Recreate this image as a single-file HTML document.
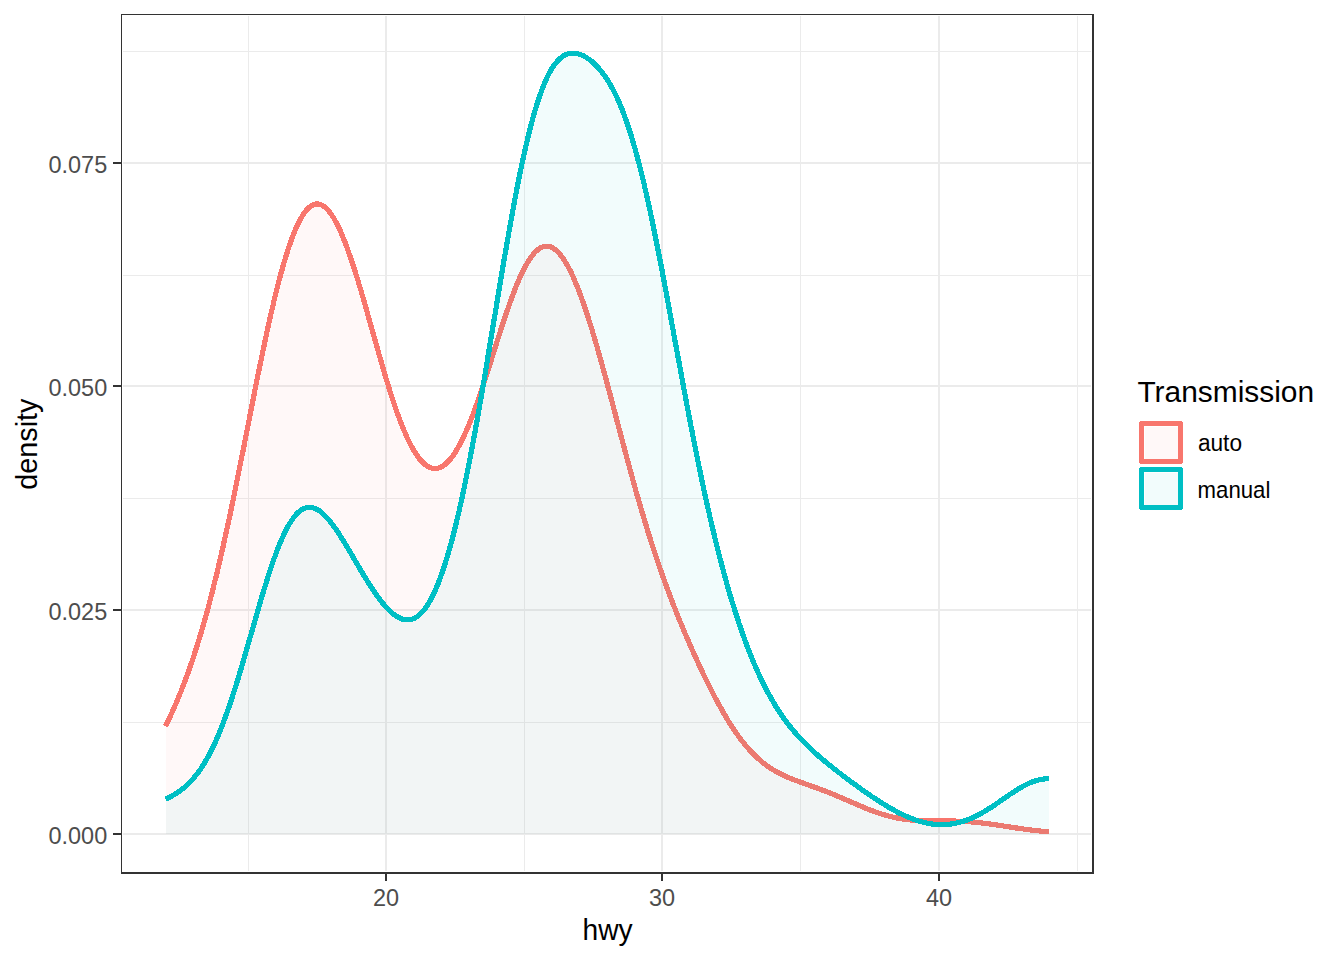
<!DOCTYPE html>
<html><head><meta charset="utf-8"><title>density</title>
<style>
html,body{margin:0;padding:0;background:#fff;}
svg{display:block;}
text{font-family:"Liberation Sans",sans-serif;}
</style></head>
<body>
<svg width="1344" height="960" viewBox="0 0 1344 960">
<rect x="0" y="0" width="1344" height="960" fill="#fff"/>
<g shape-rendering="crispEdges">
<rect x="123" y="51" width="968" height="1" fill="#EBEBEB"/>
<rect x="123" y="275" width="968" height="1" fill="#EBEBEB"/>
<rect x="123" y="498" width="968" height="1" fill="#EBEBEB"/>
<rect x="123" y="722" width="968" height="1" fill="#EBEBEB"/>
<rect x="248" y="16" width="1" height="855" fill="#EBEBEB"/>
<rect x="524" y="16" width="1" height="855" fill="#EBEBEB"/>
<rect x="800" y="16" width="1" height="855" fill="#EBEBEB"/>
<rect x="1077" y="16" width="1" height="855" fill="#EBEBEB"/>
<rect x="123" y="162" width="968" height="2" fill="#EBEBEB"/>
<rect x="123" y="385" width="968" height="2" fill="#EBEBEB"/>
<rect x="123" y="609" width="968" height="2" fill="#EBEBEB"/>
<rect x="123" y="833" width="968" height="2" fill="#EBEBEB"/>
<rect x="385" y="16" width="2" height="855" fill="#EBEBEB"/>
<rect x="661" y="16" width="2" height="855" fill="#EBEBEB"/>
<rect x="938" y="16" width="2" height="855" fill="#EBEBEB"/>
<path d="M165.5,726.2 L167.7,721.6 L169.9,716.9 L172.1,712.1 L174.4,707.1 L176.6,702.0 L178.8,696.7 L181.0,691.3 L183.2,685.6 L185.4,679.8 L187.6,673.8 L189.9,667.6 L192.1,661.1 L194.3,654.5 L196.5,647.6 L198.7,640.5 L200.9,633.2 L203.1,625.6 L205.4,617.8 L207.6,609.8 L209.8,601.5 L212.0,592.9 L214.2,584.1 L216.4,575.1 L218.6,565.8 L220.9,556.3 L223.1,546.5 L225.3,536.6 L227.5,526.4 L229.7,516.0 L231.9,505.5 L234.1,494.8 L236.4,483.9 L238.6,473.0 L240.8,461.9 L243.0,450.7 L245.2,439.5 L247.4,428.3 L249.6,417.0 L251.9,405.8 L254.1,394.6 L256.3,383.5 L258.5,372.5 L260.7,361.6 L262.9,350.9 L265.1,340.4 L267.4,330.2 L269.6,320.1 L271.8,310.4 L274.0,300.9 L276.2,291.8 L278.4,283.0 L280.6,274.6 L282.9,266.6 L285.1,259.0 L287.3,251.8 L289.5,245.1 L291.7,238.9 L293.9,233.1 L296.1,227.9 L298.4,223.1 L300.6,218.9 L302.8,215.1 L305.0,212.0 L307.2,209.3 L309.4,207.2 L311.6,205.6 L313.9,204.5 L316.1,204.0 L318.3,204.0 L320.5,204.5 L322.7,205.6 L324.9,207.1 L327.1,209.2 L329.4,211.7 L331.6,214.7 L333.8,218.2 L336.0,222.1 L338.2,226.5 L340.4,231.2 L342.6,236.3 L344.9,241.8 L347.1,247.7 L349.3,253.9 L351.5,260.3 L353.7,267.1 L355.9,274.1 L358.1,281.3 L360.4,288.7 L362.6,296.2 L364.8,303.9 L367.0,311.6 L369.2,319.5 L371.4,327.4 L373.6,335.3 L375.9,343.1 L378.1,351.0 L380.3,358.7 L382.5,366.4 L384.7,373.9 L386.9,381.3 L389.1,388.5 L391.4,395.4 L393.6,402.2 L395.8,408.7 L398.0,415.0 L400.2,420.9 L402.4,426.6 L404.6,431.9 L406.9,437.0 L409.1,441.7 L411.3,446.0 L413.5,450.0 L415.7,453.6 L417.9,456.8 L420.1,459.6 L422.4,462.1 L424.6,464.1 L426.8,465.8 L429.0,467.1 L431.2,467.9 L433.4,468.4 L435.6,468.5 L437.9,468.2 L440.1,467.5 L442.3,466.4 L444.5,464.9 L446.7,463.0 L448.9,460.7 L451.1,458.1 L453.4,455.1 L455.6,451.8 L457.8,448.1 L460.0,444.0 L462.2,439.7 L464.4,435.0 L466.6,430.0 L468.9,424.8 L471.1,419.2 L473.3,413.4 L475.5,407.4 L477.7,401.2 L479.9,394.8 L482.1,388.2 L484.4,381.5 L486.6,374.6 L488.8,367.7 L491.0,360.7 L493.2,353.7 L495.4,346.7 L497.6,339.7 L499.9,332.8 L502.1,325.9 L504.3,319.2 L506.5,312.6 L508.7,306.2 L510.9,300.0 L513.1,294.0 L515.4,288.3 L517.6,282.8 L519.8,277.7 L522.0,272.9 L524.2,268.4 L526.4,264.3 L528.6,260.6 L530.9,257.3 L533.1,254.4 L535.3,251.9 L537.5,249.9 L539.7,248.3 L541.9,247.1 L544.1,246.4 L546.4,246.1 L548.6,246.3 L550.8,246.9 L553.0,248.0 L555.2,249.5 L557.4,251.5 L559.6,253.9 L561.9,256.6 L564.1,259.8 L566.3,263.4 L568.5,267.4 L570.7,271.8 L572.9,276.5 L575.1,281.6 L577.4,287.0 L579.6,292.7 L581.8,298.7 L584.0,305.0 L586.2,311.5 L588.4,318.4 L590.6,325.4 L592.9,332.7 L595.1,340.1 L597.3,347.8 L599.5,355.6 L601.7,363.5 L603.9,371.6 L606.1,379.8 L608.4,388.0 L610.6,396.3 L612.8,404.7 L615.0,413.1 L617.2,421.5 L619.4,429.9 L621.6,438.3 L623.9,446.6 L626.1,454.9 L628.3,463.1 L630.5,471.3 L632.7,479.3 L634.9,487.2 L637.1,495.1 L639.4,502.8 L641.6,510.4 L643.8,517.9 L646.0,525.2 L648.2,532.4 L650.4,539.4 L652.6,546.3 L654.9,553.1 L657.1,559.7 L659.3,566.2 L661.5,572.6 L663.7,578.8 L665.9,584.9 L668.1,590.9 L670.4,596.8 L672.6,602.6 L674.8,608.3 L677.0,613.8 L679.2,619.3 L681.4,624.7 L683.6,630.0 L685.9,635.3 L688.1,640.4 L690.3,645.5 L692.5,650.5 L694.7,655.4 L696.9,660.3 L699.1,665.1 L701.4,669.8 L703.6,674.5 L705.8,679.1 L708.0,683.6 L710.2,688.0 L712.4,692.4 L714.6,696.6 L716.9,700.8 L719.1,704.9 L721.3,708.9 L723.5,712.8 L725.7,716.6 L727.9,720.2 L730.1,723.8 L732.4,727.3 L734.6,730.6 L736.8,733.8 L739.0,736.9 L741.2,739.9 L743.4,742.7 L745.6,745.5 L747.9,748.1 L750.1,750.5 L752.3,752.9 L754.5,755.2 L756.7,757.3 L758.9,759.3 L761.1,761.2 L763.4,763.0 L765.6,764.7 L767.8,766.3 L770.0,767.8 L772.2,769.2 L774.4,770.6 L776.6,771.8 L778.9,773.0 L781.1,774.2 L783.3,775.2 L785.5,776.3 L787.7,777.2 L789.9,778.2 L792.1,779.1 L794.4,779.9 L796.6,780.8 L798.8,781.6 L801.0,782.4 L803.2,783.2 L805.4,784.0 L807.6,784.7 L809.9,785.5 L812.1,786.3 L814.3,787.1 L816.5,787.9 L818.7,788.7 L820.9,789.5 L823.1,790.4 L825.4,791.2 L827.6,792.1 L829.8,792.9 L832.0,793.8 L834.2,794.7 L836.4,795.7 L838.6,796.6 L840.9,797.5 L843.1,798.5 L845.3,799.4 L847.5,800.4 L849.7,801.4 L851.9,802.3 L854.1,803.3 L856.4,804.3 L858.6,805.2 L860.8,806.2 L863.0,807.1 L865.2,808.0 L867.4,808.9 L869.6,809.8 L871.9,810.6 L874.1,811.5 L876.3,812.3 L878.5,813.0 L880.7,813.7 L882.9,814.4 L885.1,815.1 L887.4,815.7 L889.6,816.3 L891.8,816.9 L894.0,817.4 L896.2,817.8 L898.4,818.3 L900.6,818.6 L902.9,819.0 L905.1,819.3 L907.3,819.6 L909.5,819.8 L911.7,820.0 L913.9,820.2 L916.1,820.4 L918.4,820.5 L920.6,820.6 L922.8,820.7 L925.0,820.8 L927.2,820.8 L929.4,820.8 L931.6,820.9 L933.9,820.9 L936.1,820.9 L938.3,820.9 L940.5,820.9 L942.7,820.9 L944.9,820.9 L947.1,820.9 L949.4,821.0 L951.6,821.0 L953.8,821.0 L956.0,821.1 L958.2,821.2 L960.4,821.3 L962.6,821.4 L964.9,821.5 L967.1,821.6 L969.3,821.8 L971.5,822.0 L973.7,822.1 L975.9,822.4 L978.1,822.6 L980.4,822.8 L982.6,823.1 L984.8,823.3 L987.0,823.6 L989.2,823.9 L991.4,824.2 L993.6,824.5 L995.9,824.9 L998.1,825.2 L1000.3,825.5 L1002.5,825.9 L1004.7,826.2 L1006.9,826.5 L1009.1,826.9 L1011.4,827.2 L1013.6,827.6 L1015.8,827.9 L1018.0,828.2 L1020.2,828.5 L1022.4,828.9 L1024.6,829.2 L1026.9,829.5 L1029.1,829.7 L1031.3,830.0 L1033.5,830.3 L1035.7,830.6 L1037.9,830.8 L1040.1,831.0 L1042.4,831.3 L1044.6,831.5 L1046.8,831.7 L1049.0,831.9 L1049.0,834.0 L165.5,834.0Z" fill="#F8766D" fill-opacity="0.05" stroke="none"/>
<path d="M167.8,727.3 L170.1,722.8 L172.3,718.0 L174.5,713.2 L176.7,708.2 L179.0,703.0 L181.2,697.7 L183.4,692.2 L185.6,686.6 L187.9,680.7 L190.1,674.7 L192.3,668.4 L194.5,662.0 L196.8,655.3 L199.0,648.4 L201.2,641.3 L203.4,634.0 L205.6,626.4 L207.9,618.5 L210.1,610.5 L212.3,602.1 L214.5,593.6 L216.7,584.7 L219.0,575.7 L221.2,566.4 L223.4,556.9 L225.6,547.1 L227.8,537.1 L230.0,527.0 L232.3,516.6 L234.5,506.0 L236.7,495.3 L238.9,484.5 L241.1,473.5 L243.3,462.4 L245.6,451.2 L247.8,440.0 L250.0,428.8 L252.2,417.5 L254.4,406.3 L256.6,395.1 L258.8,384.0 L261.0,373.0 L263.3,362.2 L265.5,351.5 L267.7,341.0 L269.9,330.7 L272.1,320.7 L274.3,310.9 L276.5,301.5 L278.7,292.4 L280.9,283.6 L283.2,275.3 L285.4,267.3 L287.6,259.7 L289.8,252.6 L292.0,246.0 L294.2,239.8 L296.3,234.1 L298.5,228.9 L300.7,224.3 L302.8,220.1 L305.0,216.5 L307.1,213.5 L309.1,211.1 L311.1,209.2 L313.0,207.8 L314.7,207.0 L316.4,206.6 L318.0,206.6 L319.6,207.0 L321.4,207.8 L323.3,209.1 L325.3,211.0 L327.3,213.3 L329.4,216.2 L331.6,219.5 L333.7,223.3 L335.9,227.6 L338.1,232.3 L340.2,237.3 L342.4,242.8 L344.6,248.6 L346.8,254.7 L349.0,261.2 L351.2,267.9 L353.4,274.8 L355.7,282.0 L357.9,289.4 L360.1,296.9 L362.3,304.6 L364.5,312.4 L366.7,320.2 L368.9,328.1 L371.1,336.0 L373.4,343.9 L375.6,351.7 L377.8,359.5 L380.0,367.1 L382.2,374.7 L384.4,382.0 L386.7,389.2 L388.9,396.2 L391.1,403.0 L393.3,409.6 L395.6,415.9 L397.8,421.9 L400.0,427.6 L402.3,433.0 L404.5,438.1 L406.7,442.8 L409.0,447.2 L411.3,451.3 L413.5,455.0 L415.8,458.3 L418.1,461.3 L420.5,463.9 L422.9,466.1 L425.3,468.0 L427.9,469.4 L430.5,470.4 L433.1,471.0 L435.8,471.1 L438.4,470.7 L441.1,469.9 L443.6,468.6 L446.1,466.9 L448.5,464.9 L450.9,462.5 L453.2,459.7 L455.5,456.6 L457.8,453.2 L460.0,449.4 L462.3,445.3 L464.5,440.8 L466.8,436.1 L469.0,431.1 L471.3,425.7 L473.5,420.2 L475.7,414.4 L477.9,408.3 L480.2,402.1 L482.4,395.6 L484.6,389.0 L486.8,382.3 L489.0,375.4 L491.3,368.5 L493.5,361.5 L495.7,354.5 L497.9,347.5 L500.1,340.5 L502.3,333.6 L504.5,326.7 L506.8,320.0 L509.0,313.4 L511.2,307.1 L513.4,300.9 L515.6,294.9 L517.8,289.2 L520.0,283.8 L522.2,278.8 L524.3,274.0 L526.5,269.6 L528.7,265.6 L530.8,262.0 L533.0,258.8 L535.1,256.1 L537.1,253.8 L539.2,251.9 L541.1,250.5 L542.9,249.5 L544.7,248.9 L546.4,248.7 L548.1,248.9 L549.9,249.4 L551.7,250.3 L553.6,251.6 L555.6,253.3 L557.7,255.5 L559.8,258.2 L561.9,261.3 L564.0,264.7 L566.2,268.6 L568.4,272.9 L570.6,277.6 L572.7,282.6 L574.9,287.9 L577.1,293.6 L579.3,299.6 L581.5,305.8 L583.7,312.4 L586.0,319.2 L588.2,326.2 L590.4,333.4 L592.6,340.9 L594.8,348.5 L597.0,356.3 L599.2,364.2 L601.4,372.3 L603.6,380.4 L605.8,388.7 L608.1,397.0 L610.3,405.4 L612.5,413.8 L614.7,422.2 L616.9,430.6 L619.1,438.9 L621.3,447.3 L623.6,455.6 L625.8,463.8 L628.0,471.9 L630.2,480.0 L632.4,487.9 L634.6,495.8 L636.9,503.5 L639.1,511.1 L641.3,518.6 L643.5,525.9 L645.7,533.1 L648.0,540.2 L650.2,547.1 L652.4,553.9 L654.6,560.6 L656.8,567.1 L659.0,573.5 L661.3,579.7 L663.5,585.8 L665.7,591.9 L667.9,597.8 L670.1,603.5 L672.4,609.2 L674.6,614.8 L676.8,620.3 L679.0,625.7 L681.2,631.0 L683.5,636.3 L685.7,641.4 L687.9,646.5 L690.1,651.6 L692.3,656.5 L694.6,661.4 L696.8,666.2 L699.0,670.9 L701.2,675.6 L703.4,680.2 L705.7,684.7 L707.9,689.2 L710.1,693.6 L712.3,697.8 L714.6,702.0 L716.8,706.1 L719.0,710.2 L721.2,714.1 L723.5,717.9 L725.7,721.6 L727.9,725.2 L730.2,728.7 L732.4,732.0 L734.7,735.3 L736.9,738.4 L739.1,741.4 L741.4,744.3 L743.6,747.1 L745.9,749.8 L748.2,752.3 L750.4,754.7 L752.7,757.0 L754.9,759.2 L757.2,761.2 L759.5,763.2 L761.7,765.0 L764.0,766.8 L766.3,768.4 L768.6,770.0 L770.8,771.4 L773.1,772.8 L775.4,774.1 L777.6,775.3 L779.9,776.5 L782.2,777.6 L784.4,778.6 L786.7,779.6 L788.9,780.6 L791.2,781.5 L793.4,782.4 L795.7,783.2 L797.9,784.0 L800.1,784.8 L802.3,785.6 L804.6,786.4 L806.8,787.2 L809.0,788.0 L811.2,788.8 L813.4,789.5 L815.6,790.3 L817.8,791.1 L820.0,792.0 L822.2,792.8 L824.4,793.6 L826.6,794.5 L828.8,795.4 L831.0,796.2 L833.2,797.1 L835.4,798.1 L837.6,799.0 L839.8,799.9 L842.0,800.9 L844.2,801.8 L846.5,802.8 L848.7,803.8 L850.9,804.7 L853.1,805.7 L855.3,806.7 L857.5,807.6 L859.8,808.6 L862.0,809.5 L864.2,810.4 L866.5,811.3 L868.7,812.2 L870.9,813.1 L873.2,813.9 L875.4,814.7 L877.7,815.5 L879.9,816.2 L882.2,816.9 L884.4,817.6 L886.7,818.2 L888.9,818.8 L891.2,819.4 L893.4,819.9 L895.7,820.4 L898.0,820.8 L900.2,821.2 L902.5,821.6 L904.7,821.9 L907.0,822.2 L909.2,822.4 L911.5,822.6 L913.7,822.8 L916.0,823.0 L918.2,823.1 L920.5,823.2 L922.7,823.3 L924.9,823.4 L927.2,823.4 L929.4,823.4 L931.6,823.5 L933.8,823.5 L936.1,823.5 L938.3,823.5 L940.5,823.5 L942.7,823.5 L944.9,823.5 L947.1,823.5 L949.3,823.6 L951.5,823.6 L953.7,823.6 L955.9,823.7 L958.1,823.8 L960.3,823.9 L962.5,824.0 L964.7,824.1 L966.9,824.2 L969.1,824.4 L971.3,824.5 L973.5,824.7 L975.7,824.9 L977.9,825.2 L980.1,825.4 L982.3,825.7 L984.5,825.9 L986.7,826.2 L988.9,826.5 L991.1,826.8 L993.3,827.1 L995.5,827.4 L997.7,827.8 L999.9,828.1 L1002.1,828.4 L1004.3,828.8 L1006.5,829.1 L1008.7,829.5 L1011.0,829.8 L1013.2,830.1 L1015.4,830.5 L1017.6,830.8 L1019.8,831.1 L1022.1,831.4 L1024.3,831.7 L1026.5,832.0 L1028.7,832.3 L1031.0,832.6 L1033.2,832.9 L1035.4,833.1 L1037.6,833.4 L1039.9,833.6 L1042.1,833.8 L1044.3,834.1 L1046.6,834.3 L1048.8,834.4 L1049.2,829.3 L1047.0,829.1 L1044.8,828.9 L1042.6,828.7 L1040.4,828.4 L1038.2,828.2 L1036.0,828.0 L1033.8,827.7 L1031.6,827.4 L1029.4,827.2 L1027.2,826.9 L1025.0,826.6 L1022.8,826.3 L1020.6,826.0 L1018.4,825.6 L1016.2,825.3 L1014.0,825.0 L1011.7,824.7 L1009.5,824.3 L1007.3,824.0 L1005.1,823.6 L1002.9,823.3 L1000.7,823.0 L998.5,822.6 L996.2,822.3 L994.0,822.0 L991.8,821.7 L989.6,821.3 L987.3,821.0 L985.1,820.8 L982.9,820.5 L980.6,820.2 L978.4,820.0 L976.2,819.8 L973.9,819.6 L971.7,819.4 L969.5,819.2 L967.2,819.0 L965.0,818.9 L962.8,818.8 L960.5,818.7 L958.3,818.6 L956.1,818.5 L953.8,818.4 L951.6,818.4 L949.4,818.4 L947.2,818.3 L944.9,818.3 L942.7,818.3 L940.5,818.3 L938.3,818.3 L936.1,818.3 L933.9,818.3 L931.7,818.3 L929.5,818.2 L927.3,818.2 L925.1,818.2 L922.9,818.1 L920.7,818.0 L918.5,817.9 L916.3,817.8 L914.1,817.6 L911.9,817.5 L909.8,817.2 L907.6,817.0 L905.4,816.7 L903.2,816.4 L901.1,816.1 L898.9,815.7 L896.7,815.3 L894.6,814.8 L892.4,814.3 L890.2,813.8 L888.0,813.2 L885.9,812.6 L883.7,812.0 L881.5,811.3 L879.3,810.6 L877.1,809.8 L875.0,809.0 L872.8,808.2 L870.6,807.4 L868.4,806.5 L866.2,805.6 L864.0,804.7 L861.8,803.8 L859.6,802.8 L857.4,801.9 L855.2,800.9 L853.0,800.0 L850.8,799.0 L848.5,798.0 L846.3,797.1 L844.1,796.1 L841.9,795.1 L839.7,794.2 L837.4,793.3 L835.2,792.3 L833.0,791.4 L830.7,790.5 L828.5,789.6 L826.3,788.8 L824.1,787.9 L821.8,787.1 L819.6,786.3 L817.4,785.4 L815.2,784.6 L812.9,783.9 L810.7,783.1 L808.5,782.3 L806.3,781.5 L804.1,780.7 L801.9,779.9 L799.7,779.1 L797.5,778.3 L795.3,777.5 L793.1,776.6 L790.9,775.8 L788.7,774.8 L786.6,773.9 L784.4,772.9 L782.2,771.8 L780.1,770.7 L777.9,769.6 L775.7,768.3 L773.6,767.0 L771.4,765.6 L769.3,764.2 L767.1,762.6 L765.0,761.0 L762.8,759.2 L760.7,757.3 L758.5,755.4 L756.3,753.3 L754.2,751.1 L752.0,748.8 L749.8,746.4 L747.6,743.8 L745.5,741.1 L743.3,738.3 L741.1,735.4 L738.9,732.3 L736.7,729.1 L734.5,725.8 L732.3,722.4 L730.1,718.9 L728.0,715.2 L725.8,711.5 L723.6,707.6 L721.4,703.6 L719.1,699.6 L716.9,695.4 L714.7,691.2 L712.5,686.8 L710.3,682.4 L708.1,677.9 L705.9,673.4 L703.7,668.7 L701.5,664.0 L699.3,659.2 L697.1,654.4 L694.9,649.4 L692.7,644.4 L690.5,639.4 L688.2,634.2 L686.0,629.0 L683.8,623.7 L681.6,618.3 L679.4,612.9 L677.2,607.3 L675.0,601.7 L672.8,595.9 L670.6,590.0 L668.4,584.1 L666.2,578.0 L664.0,571.7 L661.7,565.4 L659.5,558.9 L657.3,552.3 L655.1,545.5 L652.9,538.6 L650.7,531.6 L648.5,524.4 L646.3,517.1 L644.1,509.7 L641.9,502.1 L639.6,494.4 L637.4,486.5 L635.2,478.6 L633.0,470.6 L630.8,462.4 L628.6,454.2 L626.4,445.9 L624.2,437.6 L621.9,429.2 L619.7,420.8 L617.5,412.4 L615.3,404.0 L613.1,395.7 L610.9,387.3 L608.7,379.1 L606.4,370.9 L604.2,362.8 L602.0,354.9 L599.8,347.1 L597.6,339.4 L595.3,331.9 L593.1,324.6 L590.9,317.6 L588.7,310.7 L586.5,304.1 L584.2,297.8 L582.0,291.7 L579.8,286.0 L577.5,280.5 L575.3,275.4 L573.1,270.6 L570.8,266.2 L568.5,262.1 L566.2,258.4 L563.9,255.1 L561.6,252.2 L559.2,249.6 L556.8,247.5 L554.3,245.8 L551.7,244.5 L549.0,243.8 L546.3,243.5 L543.6,243.9 L540.9,244.7 L538.3,246.1 L535.8,247.9 L533.4,250.1 L531.1,252.8 L528.7,255.8 L526.4,259.2 L524.2,263.1 L521.9,267.2 L519.7,271.8 L517.4,276.6 L515.2,281.8 L512.9,287.3 L510.7,293.1 L508.5,299.1 L506.3,305.3 L504.0,311.8 L501.8,318.4 L499.6,325.1 L497.4,332.0 L495.2,338.9 L492.9,345.9 L490.7,352.9 L488.5,360.0 L486.3,366.9 L484.1,373.8 L481.9,380.7 L479.7,387.4 L477.5,393.9 L475.3,400.3 L473.1,406.5 L470.9,412.5 L468.7,418.3 L466.5,423.8 L464.3,429.0 L462.1,433.9 L459.9,438.5 L457.7,442.8 L455.5,446.8 L453.4,450.4 L451.2,453.6 L449.1,456.5 L447.0,459.0 L444.9,461.1 L442.9,462.8 L441.0,464.1 L439.1,465.1 L437.3,465.6 L435.5,465.9 L433.8,465.8 L432.0,465.5 L430.1,464.7 L428.2,463.6 L426.2,462.1 L424.2,460.2 L422.1,457.9 L420.0,455.2 L417.9,452.1 L415.7,448.6 L413.6,444.8 L411.4,440.5 L409.2,435.9 L407.0,430.9 L404.8,425.6 L402.6,420.0 L400.4,414.1 L398.2,407.9 L396.0,401.4 L393.8,394.7 L391.6,387.7 L389.4,380.5 L387.2,373.2 L385.0,365.7 L382.8,358.0 L380.6,350.3 L378.4,342.4 L376.1,334.6 L373.9,326.7 L371.7,318.8 L369.5,310.9 L367.3,303.2 L365.1,295.5 L362.8,287.9 L360.6,280.5 L358.4,273.3 L356.2,266.3 L354.0,259.5 L351.7,253.0 L349.5,246.8 L347.3,240.9 L345.0,235.3 L342.8,230.1 L340.6,225.3 L338.3,220.9 L336.0,216.9 L333.7,213.3 L331.4,210.1 L329.0,207.4 L326.6,205.1 L324.0,203.3 L321.4,202.1 L318.6,201.4 L315.8,201.4 L313.0,202.1 L310.3,203.3 L307.8,205.2 L305.3,207.5 L302.9,210.4 L300.6,213.7 L298.3,217.6 L296.0,222.0 L293.8,226.8 L291.5,232.2 L289.3,238.0 L287.0,244.3 L284.8,251.0 L282.6,258.2 L280.4,265.9 L278.1,273.9 L275.9,282.3 L273.7,291.1 L271.5,300.3 L269.3,309.8 L267.0,319.6 L264.8,329.6 L262.6,339.9 L260.4,350.4 L258.2,361.1 L256.0,372.0 L253.7,383.0 L251.5,394.1 L249.3,405.3 L247.1,416.5 L244.9,427.8 L242.7,439.0 L240.4,450.2 L238.2,461.4 L236.0,472.5 L233.8,483.4 L231.6,494.3 L229.4,505.0 L227.2,515.5 L225.0,525.9 L222.7,536.0 L220.5,546.0 L218.3,555.7 L216.1,565.2 L213.9,574.5 L211.7,583.5 L209.5,592.3 L207.3,600.8 L205.1,609.1 L202.9,617.1 L200.6,624.9 L198.4,632.5 L196.2,639.8 L194.0,646.8 L191.8,653.7 L189.6,660.3 L187.4,666.7 L185.2,672.9 L183.0,678.9 L180.8,684.7 L178.6,690.3 L176.4,695.7 L174.2,701.0 L172.0,706.1 L169.8,711.0 L167.6,715.8 L165.4,720.5 L163.2,725.0Z" fill="#F8766D" stroke="none"/>
<path d="M165.5,799.2 L167.7,798.2 L169.9,797.0 L172.1,795.8 L174.4,794.5 L176.6,793.1 L178.8,791.6 L181.0,790.0 L183.2,788.3 L185.4,786.4 L187.6,784.4 L189.9,782.3 L192.1,779.9 L194.3,777.4 L196.5,774.6 L198.7,771.7 L200.9,768.5 L203.1,765.2 L205.4,761.5 L207.6,757.6 L209.8,753.5 L212.0,749.1 L214.2,744.5 L216.4,739.6 L218.6,734.4 L220.9,729.0 L223.1,723.3 L225.3,717.3 L227.5,711.1 L229.7,704.7 L231.9,698.1 L234.1,691.2 L236.4,684.2 L238.6,677.0 L240.8,669.6 L243.0,662.1 L245.2,654.5 L247.4,646.8 L249.6,639.1 L251.9,631.3 L254.1,623.6 L256.3,615.9 L258.5,608.2 L260.7,600.6 L262.9,593.2 L265.1,585.9 L267.4,578.8 L269.6,572.0 L271.8,565.3 L274.0,559.0 L276.2,552.9 L278.4,547.1 L280.6,541.7 L282.9,536.6 L285.1,532.0 L287.3,527.7 L289.5,523.8 L291.7,520.3 L293.9,517.2 L296.1,514.5 L298.4,512.3 L300.6,510.5 L302.8,509.1 L305.0,508.1 L307.2,507.5 L309.4,507.3 L311.6,507.5 L313.9,508.0 L316.1,508.9 L318.3,510.1 L320.5,511.7 L322.7,513.5 L324.9,515.6 L327.1,517.9 L329.4,520.5 L331.6,523.3 L333.8,526.3 L336.0,529.4 L338.2,532.7 L340.4,536.1 L342.6,539.6 L344.9,543.2 L347.1,546.9 L349.3,550.6 L351.5,554.4 L353.7,558.2 L355.9,562.0 L358.1,565.8 L360.4,569.5 L362.6,573.2 L364.8,576.9 L367.0,580.5 L369.2,584.0 L371.4,587.5 L373.6,590.8 L375.9,594.0 L378.1,597.1 L380.3,600.1 L382.5,602.9 L384.7,605.5 L386.9,608.0 L389.1,610.3 L391.4,612.3 L393.6,614.2 L395.8,615.8 L398.0,617.2 L400.2,618.3 L402.4,619.1 L404.6,619.7 L406.9,619.9 L409.1,619.8 L411.3,619.4 L413.5,618.7 L415.7,617.5 L417.9,616.0 L420.1,614.2 L422.4,611.9 L424.6,609.2 L426.8,606.1 L429.0,602.6 L431.2,598.7 L433.4,594.3 L435.6,589.4 L437.9,584.2 L440.1,578.4 L442.3,572.3 L444.5,565.6 L446.7,558.5 L448.9,551.0 L451.1,543.0 L453.4,534.6 L455.6,525.8 L457.8,516.5 L460.0,506.9 L462.2,496.8 L464.4,486.4 L466.6,475.6 L468.9,464.4 L471.1,452.9 L473.3,441.1 L475.5,429.0 L477.7,416.6 L479.9,404.0 L482.1,391.2 L484.4,378.2 L486.6,365.1 L488.8,351.8 L491.0,338.5 L493.2,325.1 L495.4,311.7 L497.6,298.4 L499.9,285.1 L502.1,271.9 L504.3,258.8 L506.5,245.9 L508.7,233.2 L510.9,220.8 L513.1,208.7 L515.4,196.9 L517.6,185.4 L519.8,174.3 L522.0,163.7 L524.2,153.5 L526.4,143.7 L528.6,134.4 L530.9,125.7 L533.1,117.4 L535.3,109.7 L537.5,102.5 L539.7,95.8 L541.9,89.7 L544.1,84.1 L546.4,79.0 L548.6,74.4 L550.8,70.4 L553.0,66.8 L555.2,63.7 L557.4,61.0 L559.6,58.8 L561.9,57.0 L564.1,55.5 L566.3,54.4 L568.5,53.7 L570.7,53.3 L572.9,53.1 L575.1,53.2 L577.4,53.6 L579.6,54.2 L581.8,55.1 L584.0,56.1 L586.2,57.4 L588.4,58.9 L590.6,60.5 L592.9,62.4 L595.1,64.4 L597.3,66.7 L599.5,69.2 L601.7,71.9 L603.9,74.8 L606.1,78.0 L608.4,81.4 L610.6,85.1 L612.8,89.1 L615.0,93.4 L617.2,98.1 L619.4,103.1 L621.6,108.4 L623.9,114.1 L626.1,120.2 L628.3,126.6 L630.5,133.5 L632.7,140.8 L634.9,148.4 L637.1,156.5 L639.4,164.9 L641.6,173.7 L643.8,182.9 L646.0,192.5 L648.2,202.4 L650.4,212.6 L652.6,223.2 L654.9,234.0 L657.1,245.0 L659.3,256.3 L661.5,267.8 L663.7,279.5 L665.9,291.3 L668.1,303.2 L670.4,315.2 L672.6,327.3 L674.8,339.4 L677.0,351.4 L679.2,363.5 L681.4,375.5 L683.6,387.4 L685.9,399.3 L688.1,411.0 L690.3,422.5 L692.5,433.9 L694.7,445.2 L696.9,456.2 L699.1,467.1 L701.4,477.7 L703.6,488.1 L705.8,498.3 L708.0,508.3 L710.2,518.1 L712.4,527.6 L714.6,536.9 L716.9,545.9 L719.1,554.7 L721.3,563.2 L723.5,571.6 L725.7,579.6 L727.9,587.5 L730.1,595.1 L732.4,602.5 L734.6,609.7 L736.8,616.6 L739.0,623.3 L741.2,629.8 L743.4,636.1 L745.6,642.2 L747.9,648.1 L750.1,653.7 L752.3,659.2 L754.5,664.5 L756.7,669.6 L758.9,674.5 L761.1,679.2 L763.4,683.8 L765.6,688.1 L767.8,692.3 L770.0,696.4 L772.2,700.3 L774.4,704.0 L776.6,707.6 L778.9,711.0 L781.1,714.4 L783.3,717.5 L785.5,720.6 L787.7,723.6 L789.9,726.4 L792.1,729.2 L794.4,731.8 L796.6,734.4 L798.8,736.8 L801.0,739.2 L803.2,741.5 L805.4,743.8 L807.6,746.0 L809.9,748.1 L812.1,750.2 L814.3,752.2 L816.5,754.2 L818.7,756.1 L820.9,758.0 L823.1,759.9 L825.4,761.8 L827.6,763.6 L829.8,765.4 L832.0,767.1 L834.2,768.9 L836.4,770.6 L838.6,772.3 L840.9,774.0 L843.1,775.7 L845.3,777.4 L847.5,779.1 L849.7,780.7 L851.9,782.4 L854.1,784.0 L856.4,785.6 L858.6,787.2 L860.8,788.8 L863.0,790.4 L865.2,791.9 L867.4,793.5 L869.6,795.0 L871.9,796.5 L874.1,798.0 L876.3,799.5 L878.5,800.9 L880.7,802.3 L882.9,803.7 L885.1,805.1 L887.4,806.4 L889.6,807.7 L891.8,809.0 L894.0,810.2 L896.2,811.4 L898.4,812.6 L900.6,813.7 L902.9,814.8 L905.1,815.8 L907.3,816.8 L909.5,817.7 L911.7,818.6 L913.9,819.4 L916.1,820.2 L918.4,820.9 L920.6,821.5 L922.8,822.1 L925.0,822.7 L927.2,823.1 L929.4,823.6 L931.6,823.9 L933.9,824.2 L936.1,824.4 L938.3,824.6 L940.5,824.6 L942.7,824.6 L944.9,824.6 L947.1,824.5 L949.4,824.3 L951.6,824.0 L953.8,823.6 L956.0,823.2 L958.2,822.7 L960.4,822.1 L962.6,821.5 L964.9,820.8 L967.1,820.0 L969.3,819.1 L971.5,818.2 L973.7,817.2 L975.9,816.1 L978.1,815.0 L980.4,813.8 L982.6,812.6 L984.8,811.3 L987.0,809.9 L989.2,808.5 L991.4,807.1 L993.6,805.6 L995.9,804.1 L998.1,802.6 L1000.3,801.1 L1002.5,799.5 L1004.7,798.0 L1006.9,796.5 L1009.1,795.0 L1011.4,793.5 L1013.6,792.0 L1015.8,790.6 L1018.0,789.2 L1020.2,787.9 L1022.4,786.6 L1024.6,785.4 L1026.9,784.3 L1029.1,783.3 L1031.3,782.3 L1033.5,781.5 L1035.7,780.8 L1037.9,780.1 L1040.1,779.6 L1042.4,779.2 L1044.6,778.9 L1046.8,778.7 L1049.0,778.7 L1049.0,834.0 L165.5,834.0Z" fill="#00BFC4" fill-opacity="0.05" stroke="none"/>
<path d="M166.6,801.6 L168.9,800.5 L171.2,799.3 L173.4,798.0 L175.7,796.7 L178.0,795.3 L180.3,793.8 L182.6,792.1 L184.8,790.3 L187.1,788.4 L189.4,786.3 L191.7,784.1 L194.0,781.7 L196.3,779.0 L198.5,776.2 L200.8,773.2 L203.1,770.0 L205.3,766.5 L207.6,762.8 L209.8,758.9 L212.1,754.7 L214.3,750.3 L216.6,745.6 L218.8,740.6 L221.0,735.4 L223.3,729.9 L225.5,724.2 L227.7,718.2 L230.0,712.0 L232.2,705.5 L234.4,698.9 L236.6,692.0 L238.8,684.9 L241.1,677.7 L243.3,670.3 L245.5,662.8 L247.7,655.2 L249.9,647.5 L252.1,639.8 L254.4,632.0 L256.6,624.3 L258.8,616.6 L261.0,608.9 L263.2,601.4 L265.4,594.0 L267.6,586.7 L269.8,579.6 L272.0,572.8 L274.2,566.2 L276.4,559.8 L278.6,553.8 L280.8,548.1 L283.0,542.7 L285.2,537.7 L287.4,533.1 L289.6,528.9 L291.7,525.1 L293.9,521.7 L296.0,518.8 L298.1,516.3 L300.1,514.2 L302.1,512.6 L304.0,511.4 L305.9,510.5 L307.7,510.1 L309.4,509.9 L311.2,510.1 L313.1,510.5 L315.0,511.3 L316.9,512.3 L318.9,513.7 L321.0,515.4 L323.1,517.4 L325.2,519.7 L327.4,522.2 L329.5,524.9 L331.7,527.8 L333.9,530.9 L336.0,534.1 L338.2,537.5 L340.4,541.0 L342.6,544.6 L344.8,548.3 L347.0,552.0 L349.3,555.7 L351.5,559.5 L353.7,563.3 L355.9,567.1 L358.1,570.9 L360.3,574.6 L362.6,578.3 L364.8,581.9 L367.0,585.4 L369.3,588.9 L371.5,592.3 L373.7,595.5 L376.0,598.7 L378.2,601.7 L380.5,604.5 L382.8,607.2 L385.0,609.8 L387.3,612.1 L389.6,614.3 L392.0,616.2 L394.3,618.0 L396.7,619.4 L399.2,620.7 L401.7,621.6 L404.2,622.2 L406.8,622.5 L409.4,622.4 L412.0,621.9 L414.5,621.0 L417.0,619.8 L419.5,618.1 L421.9,616.1 L424.3,613.6 L426.6,610.8 L428.9,607.6 L431.2,603.9 L433.5,599.9 L435.8,595.4 L438.0,590.5 L440.3,585.1 L442.5,579.3 L444.7,573.1 L447.0,566.4 L449.2,559.3 L451.4,551.7 L453.7,543.7 L455.9,535.3 L458.1,526.4 L460.3,517.1 L462.5,507.5 L464.8,497.4 L467.0,486.9 L469.2,476.1 L471.4,464.9 L473.6,453.4 L475.8,441.6 L478.1,429.5 L480.3,417.1 L482.5,404.5 L484.7,391.7 L486.9,378.7 L489.1,365.5 L491.4,352.3 L493.6,338.9 L495.8,325.6 L498.0,312.2 L500.2,298.8 L502.4,285.5 L504.6,272.3 L506.8,259.2 L509.1,246.3 L511.3,233.7 L513.5,221.3 L515.7,209.1 L517.9,197.3 L520.1,185.9 L522.3,174.8 L524.5,164.2 L526.8,154.0 L529.0,144.3 L531.2,135.0 L533.4,126.3 L535.6,118.1 L537.8,110.4 L540.0,103.3 L542.2,96.7 L544.4,90.6 L546.5,85.1 L548.7,80.1 L550.9,75.6 L553.0,71.7 L555.2,68.2 L557.3,65.3 L559.4,62.8 L561.4,60.7 L563.4,59.1 L565.4,57.8 L567.3,56.8 L569.2,56.2 L571.1,55.8 L572.9,55.7 L574.8,55.8 L576.8,56.2 L578.8,56.7 L580.8,57.5 L582.8,58.4 L584.9,59.6 L586.9,61.0 L589.0,62.6 L591.1,64.3 L593.3,66.3 L595.4,68.5 L597.5,70.9 L599.7,73.5 L601.8,76.3 L604.0,79.4 L606.1,82.8 L608.3,86.4 L610.5,90.3 L612.7,94.6 L614.9,99.2 L617.0,104.1 L619.2,109.4 L621.4,115.0 L623.6,121.0 L625.8,127.5 L628.0,134.3 L630.2,141.5 L632.4,149.1 L634.6,157.1 L636.8,165.6 L639.0,174.4 L641.3,183.5 L643.5,193.1 L645.7,203.0 L647.9,213.2 L650.1,223.7 L652.3,234.5 L654.5,245.5 L656.7,256.8 L658.9,268.3 L661.2,280.0 L663.4,291.8 L665.6,303.7 L667.8,315.7 L670.0,327.7 L672.2,339.8 L674.4,351.9 L676.7,364.0 L678.9,376.0 L681.1,387.9 L683.3,399.7 L685.5,411.4 L687.7,423.0 L689.9,434.4 L692.2,445.7 L694.4,456.7 L696.6,467.6 L698.8,478.2 L701.0,488.7 L703.2,498.9 L705.5,508.9 L707.7,518.7 L709.9,528.2 L712.1,537.5 L714.3,546.5 L716.6,555.3 L718.8,563.9 L721.0,572.2 L723.2,580.3 L725.4,588.2 L727.6,595.8 L729.9,603.3 L732.1,610.4 L734.3,617.4 L736.5,624.1 L738.8,630.7 L741.0,637.0 L743.2,643.1 L745.4,649.0 L747.7,654.7 L749.9,660.2 L752.1,665.5 L754.3,670.6 L756.6,675.6 L758.8,680.3 L761.0,684.9 L763.3,689.3 L765.5,693.6 L767.7,697.6 L770.0,701.6 L772.2,705.3 L774.4,709.0 L776.7,712.5 L778.9,715.8 L781.2,719.1 L783.4,722.2 L785.6,725.1 L787.9,728.0 L790.1,730.8 L792.4,733.5 L794.6,736.1 L796.9,738.6 L799.1,741.0 L801.3,743.3 L803.6,745.6 L805.8,747.8 L808.1,750.0 L810.3,752.1 L812.5,754.1 L814.8,756.1 L817.0,758.1 L819.2,760.0 L821.5,761.9 L823.7,763.8 L825.9,765.6 L828.2,767.4 L830.4,769.2 L832.6,770.9 L834.8,772.7 L837.1,774.4 L839.3,776.1 L841.5,777.8 L843.7,779.5 L845.9,781.2 L848.2,782.8 L850.4,784.5 L852.6,786.1 L854.8,787.7 L857.1,789.3 L859.3,790.9 L861.5,792.5 L863.7,794.1 L865.9,795.6 L868.2,797.1 L870.4,798.7 L872.6,800.2 L874.9,801.6 L877.1,803.1 L879.3,804.5 L881.6,805.9 L883.8,807.3 L886.0,808.7 L888.3,810.0 L890.5,811.3 L892.8,812.5 L895.0,813.7 L897.2,814.9 L899.5,816.0 L901.7,817.1 L904.0,818.2 L906.3,819.1 L908.5,820.1 L910.8,821.0 L913.0,821.8 L915.3,822.6 L917.6,823.4 L919.9,824.0 L922.1,824.6 L924.4,825.2 L926.7,825.7 L929.0,826.1 L931.3,826.5 L933.6,826.8 L935.9,827.0 L938.2,827.2 L940.4,827.2 L942.7,827.2 L945.0,827.2 L947.3,827.0 L949.6,826.8 L951.9,826.5 L954.2,826.2 L956.5,825.7 L958.8,825.2 L961.1,824.6 L963.4,824.0 L965.7,823.2 L968.0,822.4 L970.3,821.5 L972.5,820.6 L974.8,819.5 L977.1,818.4 L979.3,817.3 L981.6,816.1 L983.9,814.8 L986.1,813.5 L988.4,812.1 L990.6,810.7 L992.9,809.3 L995.1,807.8 L997.3,806.3 L999.5,804.8 L1001.8,803.2 L1004.0,801.7 L1006.2,800.1 L1008.4,798.6 L1010.6,797.1 L1012.8,795.6 L1015.0,794.2 L1017.2,792.8 L1019.4,791.4 L1021.5,790.1 L1023.7,788.9 L1025.8,787.7 L1028.0,786.6 L1030.1,785.6 L1032.3,784.7 L1034.4,783.9 L1036.5,783.2 L1038.6,782.6 L1040.7,782.2 L1042.8,781.8 L1044.8,781.5 L1046.9,781.3 L1049.1,781.3 L1048.9,776.1 L1046.7,776.2 L1044.3,776.3 L1042.0,776.6 L1039.6,777.1 L1037.3,777.6 L1034.9,778.3 L1032.6,779.0 L1030.3,779.9 L1028.0,780.9 L1025.7,782.0 L1023.4,783.1 L1021.2,784.3 L1018.9,785.6 L1016.6,787.0 L1014.4,788.4 L1012.2,789.8 L1009.9,791.3 L1007.7,792.8 L1005.5,794.3 L1003.2,795.9 L1001.0,797.4 L998.8,798.9 L996.6,800.5 L994.4,802.0 L992.2,803.5 L990.0,804.9 L987.8,806.3 L985.6,807.7 L983.5,809.0 L981.3,810.3 L979.1,811.5 L976.9,812.7 L974.8,813.8 L972.6,814.8 L970.5,815.8 L968.3,816.7 L966.2,817.5 L964.0,818.3 L961.9,819.0 L959.7,819.6 L957.6,820.2 L955.5,820.7 L953.3,821.1 L951.2,821.4 L949.1,821.7 L946.9,821.9 L944.8,822.0 L942.7,822.0 L940.6,822.0 L938.4,822.0 L936.3,821.8 L934.1,821.6 L932.0,821.3 L929.9,821.0 L927.7,820.6 L925.6,820.1 L923.4,819.6 L921.3,819.0 L919.1,818.4 L917.0,817.7 L914.8,816.9 L912.6,816.1 L910.5,815.3 L908.3,814.4 L906.1,813.4 L904.0,812.4 L901.8,811.4 L899.6,810.3 L897.4,809.1 L895.2,807.9 L893.1,806.7 L890.9,805.5 L888.7,804.2 L886.5,802.9 L884.3,801.5 L882.1,800.1 L879.9,798.7 L877.7,797.3 L875.5,795.8 L873.3,794.4 L871.1,792.9 L868.9,791.3 L866.7,789.8 L864.5,788.3 L862.3,786.7 L860.1,785.1 L857.9,783.5 L855.7,781.9 L853.5,780.3 L851.3,778.6 L849.1,777.0 L846.9,775.3 L844.6,773.7 L842.4,772.0 L840.2,770.3 L838.0,768.6 L835.8,766.8 L833.6,765.1 L831.4,763.3 L829.2,761.6 L827.0,759.7 L824.8,757.9 L822.6,756.1 L820.4,754.2 L818.2,752.2 L816.0,750.3 L813.8,748.3 L811.6,746.2 L809.5,744.1 L807.3,741.9 L805.1,739.7 L802.9,737.4 L800.7,735.1 L798.5,732.6 L796.3,730.1 L794.2,727.5 L792.0,724.8 L789.8,722.0 L787.6,719.1 L785.4,716.0 L783.2,712.9 L781.0,709.6 L778.8,706.2 L776.7,702.7 L774.5,699.0 L772.3,695.1 L770.1,691.1 L767.9,686.9 L765.7,682.6 L763.5,678.1 L761.3,673.4 L759.1,668.5 L756.9,663.5 L754.7,658.2 L752.5,652.8 L750.3,647.1 L748.1,641.3 L745.9,635.2 L743.7,629.0 L741.5,622.5 L739.3,615.8 L737.1,608.9 L734.8,601.7 L732.6,594.4 L730.4,586.8 L728.2,578.9 L726.0,570.9 L723.8,562.6 L721.6,554.0 L719.4,545.3 L717.2,536.2 L715.0,527.0 L712.7,517.5 L710.5,507.8 L708.3,497.8 L706.1,487.6 L703.9,477.2 L701.7,466.5 L699.5,455.7 L697.3,444.7 L695.1,433.4 L692.8,422.0 L690.6,410.5 L688.4,398.8 L686.2,387.0 L684.0,375.0 L681.8,363.0 L679.6,351.0 L677.3,338.9 L675.1,326.8 L672.9,314.7 L670.7,302.7 L668.5,290.8 L666.3,279.0 L664.1,267.3 L661.8,255.8 L659.6,244.5 L657.4,233.5 L655.2,222.6 L653.0,212.1 L650.8,201.8 L648.5,191.9 L646.3,182.3 L644.1,173.1 L641.9,164.3 L639.7,155.8 L637.4,147.7 L635.2,140.0 L633.0,132.7 L630.8,125.8 L628.5,119.3 L626.3,113.2 L624.1,107.4 L621.8,102.0 L619.6,97.0 L617.3,92.3 L615.1,87.9 L612.8,83.8 L610.6,80.0 L608.3,76.5 L606.0,73.3 L603.8,70.3 L601.5,67.5 L599.2,64.9 L596.9,62.6 L594.6,60.4 L592.3,58.5 L589.9,56.8 L587.6,55.2 L585.2,53.8 L582.8,52.7 L580.4,51.8 L577.9,51.1 L575.4,50.7 L572.9,50.5 L570.4,50.7 L567.8,51.2 L565.3,52.0 L562.8,53.3 L560.3,54.9 L557.9,56.9 L555.5,59.3 L553.2,62.1 L550.8,65.4 L548.5,69.1 L546.3,73.2 L544.0,77.9 L541.7,83.1 L539.5,88.8 L537.3,95.0 L535.0,101.7 L532.8,108.9 L530.6,116.7 L528.3,125.0 L526.1,133.8 L523.9,143.1 L521.7,152.9 L519.5,163.1 L517.2,173.8 L515.0,184.9 L512.8,196.4 L510.6,208.2 L508.4,220.3 L506.2,232.8 L503.9,245.5 L501.7,258.4 L499.5,271.4 L497.3,284.6 L495.1,297.9 L492.9,311.3 L490.6,324.7 L488.4,338.1 L486.2,351.4 L484.0,364.7 L481.8,377.8 L479.6,390.8 L477.4,403.6 L475.2,416.2 L472.9,428.5 L470.7,440.6 L468.5,452.4 L466.3,463.9 L464.1,475.0 L461.9,485.8 L459.7,496.3 L457.5,506.3 L455.3,516.0 L453.0,525.2 L450.8,534.0 L448.6,542.4 L446.4,550.3 L444.2,557.8 L442.0,564.8 L439.8,571.4 L437.6,577.5 L435.4,583.2 L433.3,588.4 L431.1,593.1 L428.9,597.4 L426.8,601.3 L424.6,604.7 L422.5,607.6 L420.4,610.2 L418.4,612.3 L416.4,614.0 L414.4,615.3 L412.5,616.3 L410.6,616.9 L408.8,617.2 L407.0,617.3 L405.1,617.1 L403.2,616.6 L401.3,615.9 L399.3,614.9 L397.2,613.6 L395.2,612.1 L393.1,610.4 L391.0,608.4 L388.8,606.2 L386.7,603.8 L384.5,601.2 L382.3,598.5 L380.2,595.6 L378.0,592.5 L375.8,589.4 L373.6,586.1 L371.4,582.6 L369.2,579.1 L367.0,575.6 L364.8,571.9 L362.6,568.2 L360.4,564.5 L358.2,560.7 L356.0,556.9 L353.7,553.1 L351.5,549.3 L349.3,545.6 L347.1,541.9 L344.9,538.3 L342.6,534.7 L340.4,531.3 L338.1,527.9 L335.9,524.7 L333.6,521.7 L331.4,518.9 L329.1,516.2 L326.8,513.8 L324.4,511.5 L322.1,509.6 L319.7,507.9 L317.2,506.6 L314.7,505.6 L312.1,504.9 L309.4,504.7 L306.8,505.0 L304.1,505.7 L301.6,506.8 L299.0,508.4 L296.6,510.4 L294.2,512.8 L291.9,515.6 L289.6,518.8 L287.3,522.4 L285.0,526.4 L282.7,530.8 L280.5,535.6 L278.2,540.7 L276.0,546.2 L273.8,552.0 L271.6,558.1 L269.3,564.5 L267.1,571.2 L264.9,578.1 L262.7,585.2 L260.4,592.5 L258.2,599.9 L256.0,607.5 L253.8,615.1 L251.6,622.9 L249.4,630.6 L247.1,638.4 L244.9,646.1 L242.7,653.8 L240.5,661.4 L238.3,668.8 L236.1,676.2 L233.9,683.4 L231.7,690.4 L229.5,697.3 L227.3,703.9 L225.0,710.3 L222.8,716.4 L220.6,722.3 L218.4,728.0 L216.2,733.4 L214.0,738.5 L211.9,743.4 L209.7,748.0 L207.5,752.3 L205.3,756.4 L203.1,760.2 L200.9,763.8 L198.8,767.1 L196.6,770.2 L194.5,773.0 L192.3,775.7 L190.1,778.2 L188.0,780.4 L185.9,782.5 L183.7,784.5 L181.6,786.3 L179.4,787.9 L177.3,789.5 L175.2,790.9 L173.0,792.3 L170.9,793.5 L168.7,794.7 L166.5,795.8 L164.4,796.9Z" fill="#00BFC4" stroke="none"/>
<rect x="121" y="14" width="973" height="1" fill="#333333"/>
<rect x="121" y="14" width="1" height="860" fill="#333333"/>
<rect x="121" y="872" width="973" height="2" fill="#333333"/>
<rect x="1092" y="14" width="2" height="860" fill="#333333"/>
<rect x="113" y="162" width="8" height="2" fill="#333333"/>
<rect x="113" y="385" width="8" height="2" fill="#333333"/>
<rect x="113" y="609" width="8" height="2" fill="#333333"/>
<rect x="113" y="833" width="8" height="2" fill="#333333"/>
<rect x="385" y="874" width="2" height="7" fill="#333333"/>
<rect x="661" y="874" width="2" height="7" fill="#333333"/>
<rect x="938" y="874" width="2" height="7" fill="#333333"/>
<rect x="1145" y="427" width="33" height="32" fill="#F8766D" fill-opacity="0.05"/>
<rect x="1141.5" y="423.5" width="39" height="38" fill="none" stroke="#F8766D" stroke-width="5" stroke-linejoin="round"/>
<rect x="1145" y="473" width="33" height="32" fill="#00BFC4" fill-opacity="0.05"/>
<rect x="1141.5" y="469.5" width="39" height="38" fill="none" stroke="#00BFC4" stroke-width="5" stroke-linejoin="round"/>
</g>
<text x="107.2" y="843.7" text-anchor="end" font-size="23.47" fill="#4D4D4D">0.000</text>
<text x="107.2" y="619.7" text-anchor="end" font-size="23.47" fill="#4D4D4D">0.025</text>
<text x="107.2" y="395.7" text-anchor="end" font-size="23.47" fill="#4D4D4D">0.050</text>
<text x="107.2" y="172.7" text-anchor="end" font-size="23.47" fill="#4D4D4D">0.075</text>
<text x="386" y="905.9" text-anchor="middle" font-size="23.47" fill="#4D4D4D">20</text>
<text x="662" y="905.9" text-anchor="middle" font-size="23.47" fill="#4D4D4D">30</text>
<text x="939" y="905.9" text-anchor="middle" font-size="23.47" fill="#4D4D4D">40</text>
<text transform="translate(607.6,940) scale(0.96,1)" text-anchor="middle" font-size="29.33" fill="#000">hwy</text>
<text transform="translate(37.1,444.1) rotate(-90) scale(0.982,1)" text-anchor="middle" font-size="29.33" fill="#000">density</text>
<text transform="translate(1137.4,402.2) scale(1.02,1)" font-size="29.33" fill="#000">Transmission</text>
<text transform="translate(1197.9,451.1) scale(0.966,1)" font-size="23.47" fill="#000">auto</text>
<text transform="translate(1197.6,497.5) scale(0.946,1)" font-size="23.47" fill="#000">manual</text>
</svg>
</body></html>
